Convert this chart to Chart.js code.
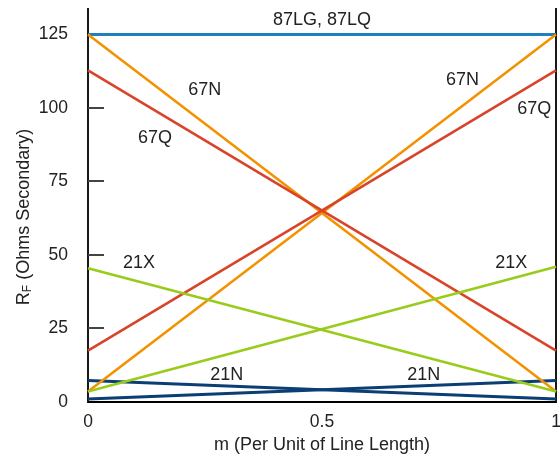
<!DOCTYPE html>
<html>
<head>
<meta charset="utf-8">
<script src="https://cdn.jsdelivr.net/npm/chart.js@4"></script>
<style>
  html, body { margin: 0; padding: 0; background: #fff; }
  canvas { display: block; }
</style>
</head>
<body>
<canvas id="chart" width="560" height="456"></canvas>
<script>
// Dati
const mValues = [0, 1];
const rf87 = [125, 125];
const rf67NDown = [125, 3.6];
const rf67NUp = [3.6, 125];
const rf67QDown = [112.8, 17.5];
const rf67QUp = [17.5, 112.8];
const rf21XDown = [45.5, 3.6];
const rf21XUp = [3.6, 46];
const rf21NDown = [7.3, 1];
const rf21NUp = [1, 7.3];

const xTicks = [0, 0.5, 1];
const yTicks = [0, 25, 50, 75, 100, 125];

// Etichette delle curve (coordinate in unita' dei dati)
const lineLabels = [
    { text: '87LG, 87LQ', x: 0.5, y: 129.9, align: 'center' },
    { text: '67N', x: 0.214, y: 106.2, align: 'left' },
    { text: '67Q', x: 0.107, y: 89.8, align: 'left' },
    { text: '67N', x: 0.765, y: 109.6, align: 'left' },
    { text: '67Q', x: 0.917, y: 99.8, align: 'left' },
    { text: '21X', x: 0.075, y: 47.2, align: 'left' },
    { text: '21X', x: 0.870, y: 47.2, align: 'left' },
    { text: '21N', x: 0.261, y: 9.1, align: 'left' },
    { text: '21N', x: 0.682, y: 9.1, align: 'left' }
];

const FONT = '"Liberation Sans", Arial, sans-serif';
const TEXT = '#222';

const colors = {
    blue: '#1f80c0',
    orange: '#f39200',
    red: '#d8442a',
    green: '#99cc1a',
    navy: '#0a3e74'
};

function toPoints(values) {
    return values.map((v, i) => ({ x: mValues[i], y: v }));
}

function ds(values, color, width) {
    return {
        data: toPoints(values),
        borderColor: color,
        borderWidth: width || 2.6,
        pointRadius: 0,
        fill: false,
        tension: 0,
        clip: false
    };
}

function noPad(s) {
    s.paddingTop = 0;
    s.paddingBottom = 0;
    s.paddingLeft = 0;
    s.paddingRight = 0;
}

// Plugin: assi, tacche, titoli, etichette
const decorPlugin = {
    id: 'decor',
    beforeDatasetsDraw(chart) {
        const { ctx, chartArea: a, scales } = chart;
        ctx.save();
        ctx.strokeStyle = '#000';
        ctx.lineWidth = 1.8;
        ctx.beginPath();
        ctx.moveTo(a.left, a.top);
        ctx.lineTo(a.left, a.bottom);
        ctx.lineTo(a.right, a.bottom);
        ctx.lineTo(a.right, a.top);
        ctx.stroke();

        // tacche interne asse y
        ctx.strokeStyle = '#444';
        ctx.lineWidth = 2;
        yTicks.forEach(v => {
            if (v === 0) return;
            const y = Math.round(scales.y.getPixelForValue(v));
            ctx.beginPath();
            ctx.moveTo(a.left, y);
            ctx.lineTo(a.left + 16, y);
            ctx.stroke();
        });
        ctx.restore();
    },
    afterDraw(chart) {
        const { ctx, chartArea: a, scales } = chart;
        ctx.save();
        ctx.fillStyle = TEXT;
        ctx.font = '18px ' + FONT;
        ctx.textBaseline = 'middle';
        lineLabels.forEach(l => {
            ctx.textAlign = l.align;
            ctx.fillText(l.text, scales.x.getPixelForValue(l.x), scales.y.getPixelForValue(l.y));
        });

        // titolo asse x
        ctx.textAlign = 'center';
        ctx.fillText('m (Per Unit of Line Length)', (a.left + a.right) / 2, 445);

        // titolo asse y con pedice
        ctx.translate(24, 217);
        ctx.rotate(-Math.PI / 2);
        const parts = [
            { t: 'R', size: 18, dy: 0 },
            { t: 'F', size: 12, dy: 4 },
            { t: ' (Ohms Secondary)', size: 18, dy: 0 }
        ];
        let total = 0;
        parts.forEach(p => {
            ctx.font = p.size + 'px ' + FONT;
            p.w = ctx.measureText(p.t).width;
            total += p.w;
        });
        let x = -total / 2;
        ctx.textAlign = 'left';
        parts.forEach(p => {
            ctx.font = p.size + 'px ' + FONT;
            ctx.fillText(p.t, x, p.dy);
            x += p.w;
        });
        ctx.restore();
    }
};

new Chart(document.getElementById('chart'), {
    type: 'line',
    data: {
        datasets: [
            ds(rf21XDown, colors.green),
            ds(rf21XUp, colors.green),
            ds(rf67QDown, colors.red),
            ds(rf67QUp, colors.red),
            ds(rf67NDown, colors.orange),
            ds(rf67NUp, colors.orange),
            ds(rf21NDown, colors.navy, 3),
            ds(rf21NUp, colors.navy, 3),
            ds(rf87, colors.blue, 3)
        ]
    },
    options: {
        responsive: false,
        animation: false,
        layout: { padding: { top: 8, right: 4, left: 0, bottom: 0 } },
        plugins: { legend: { display: false }, tooltip: { enabled: false } },
        scales: {
            x: {
                type: 'linear',
                min: 0,
                max: 1,
                afterBuildTicks: (s) => { s.ticks = xTicks.map(v => ({ value: v })); },
                afterFit: (s) => { s.height = 54; noPad(s); },
                grid: { display: false, drawTicks: false },
                border: { display: false },
                ticks: {
                    padding: 10,
                    color: TEXT,
                    font: { family: FONT, size: 17.5 },
                    maxRotation: 0,
                    callback: (v) => String(v)
                }
            },
            y: {
                type: 'linear',
                min: 0,
                max: 134,
                afterBuildTicks: (s) => { s.ticks = yTicks.map(v => ({ value: v })); },
                afterFit: (s) => { s.width = 88; noPad(s); },
                grid: { display: false, drawTicks: false },
                border: { display: false },
                ticks: {
                    padding: 20,
                    color: TEXT,
                    font: { family: FONT, size: 17.5 }
                }
            }
        }
    },
    plugins: [decorPlugin]
});
</script>
</body>
</html>
